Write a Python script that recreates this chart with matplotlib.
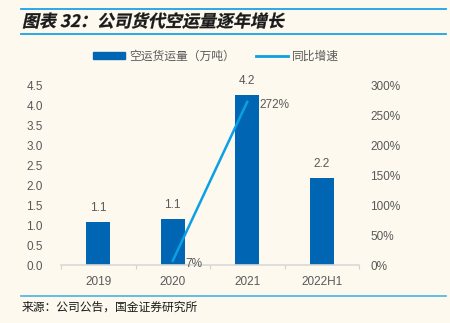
import numpy as np
import matplotlib.pyplot as plt
from matplotlib.lines import Line2D
from matplotlib.textpath import TextPath
from matplotlib.patches import PathPatch
from matplotlib.font_manager import FontProperties
from matplotlib.transforms import Affine2D, IdentityTransform

plt.rcParams['font.family'] = ['Liberation Sans', 'Noto Sans CJK SC', 'DejaVu Sans']

# data
years = ['2019', '2020', '2021', '2022H1']
volume = [1.08, 1.14, 4.24, 2.17]          # 空运货运量（万吨）
growth = [np.nan, 0.07, 2.72, np.nan]      # 同比增速
growth_labels = [None, '7%', '272%', None]

bg = '#fdf9ef'
bar_c = '#0066b3'
line_c = '#0aa0e6'
txt_c = '#595959'
fs = 8.5

fig = plt.figure(figsize=(4.5, 3.23), dpi=100, facecolor=bg)
ax = fig.add_axes([61/450, 1-265/323, 298/450, 180/323], facecolor=bg)
ax2 = ax.twinx()

x = np.arange(len(years))
ax.bar(x, volume, width=0.32, color=bar_c, zorder=2)
for xi, v in zip(x, volume):
    ax.text(xi, v + 0.2, f'{v:.1f}', ha='center', va='bottom', fontsize=fs, color=txt_c)

ax2.plot(x, growth, color=line_c, lw=1.8, zorder=3)
for xi, g, lab in zip(x, growth, growth_labels):
    if lab:
        ax2.annotate(lab, (xi, g), xytext=(9, -2), textcoords='offset points',
                     ha='left', va='center', fontsize=fs, color=txt_c)

ax.set_xlim(-0.5, 3.5)
ax.set_ylim(0, 4.5)
ax2.set_ylim(0, 3.0)
lt = np.arange(0, 4.51, 0.5)
rt = np.arange(0, 3.01, 0.5)
ax.set_yticks(lt)
ax.set_yticklabels([f'{v:.1f}' for v in lt])
ax2.set_yticks(rt)
ax2.set_yticklabels([f'{int(round(v*100))}%' for v in rt])

ax.set_xticks(x)
ax.set_xticklabels(years)
ax.set_xticks(np.arange(-0.5, 3.6, 1), minor=True)
ax.tick_params(axis='x', which='major', length=0, pad=8, labelsize=fs, labelcolor=txt_c)
ax.tick_params(axis='x', which='minor', length=3, color='#d0d0d0', width=0.8)
ax.tick_params(axis='y', length=0, pad=13, labelsize=fs, labelcolor=txt_c)
ax2.tick_params(axis='y', length=0, pad=8, labelsize=fs, labelcolor=txt_c)

for a in (ax, ax2):
    for s in ('top', 'left', 'right'):
        a.spines[s].set_visible(False)
ax2.spines['bottom'].set_visible(False)
ax.spines['bottom'].set_color('#d9d9d9')
ax.spines['bottom'].set_linewidth(1.2)

handles = [plt.Rectangle((0, 0), 1, 1, color=bar_c),
           Line2D([0], [0], color=line_c, lw=2)]
fig.legend(handles, ['空运货运量（万吨）', '同比增速'], loc='center',
           bbox_to_anchor=(216/450, 1-57/323), ncol=2, frameon=False,
           fontsize=fs, labelcolor=txt_c, handlelength=2.7, handleheight=0.5,
           columnspacing=1.8, handletextpad=0.35)

# header / footer rules
for yy in (8.5, 34, 296):
    fig.add_artist(Line2D([21/450, 446/450], [1-yy/323, 1-yy/323],
                          color='#1aa3e8' if yy < 100 else '#55b8e6', lw=1.3))

# slanted bold title (CJK font has no italic, so shear the text path)
tp = TextPath((0, 0), '图表 32：公司货代空运量逐年增长', size=17,
              prop=FontProperties(family='Noto Sans CJK SC', weight='bold'))
tr = Affine2D().skew_deg(12, 0).translate(22, 323 - 27)
fig.add_artist(PathPatch(tr.transform_path(tp), transform=IdentityTransform(),
                         facecolor='#1a1a1a', edgecolor='#1a1a1a', lw=0.2))

fig.text(22/450, 1-308/323, '来源：公司公告，国金证券研究所', fontsize=8.5,
         ha='left', va='center', color='#1a1a1a')

fig.savefig('out.png', dpi=100, facecolor=bg)
